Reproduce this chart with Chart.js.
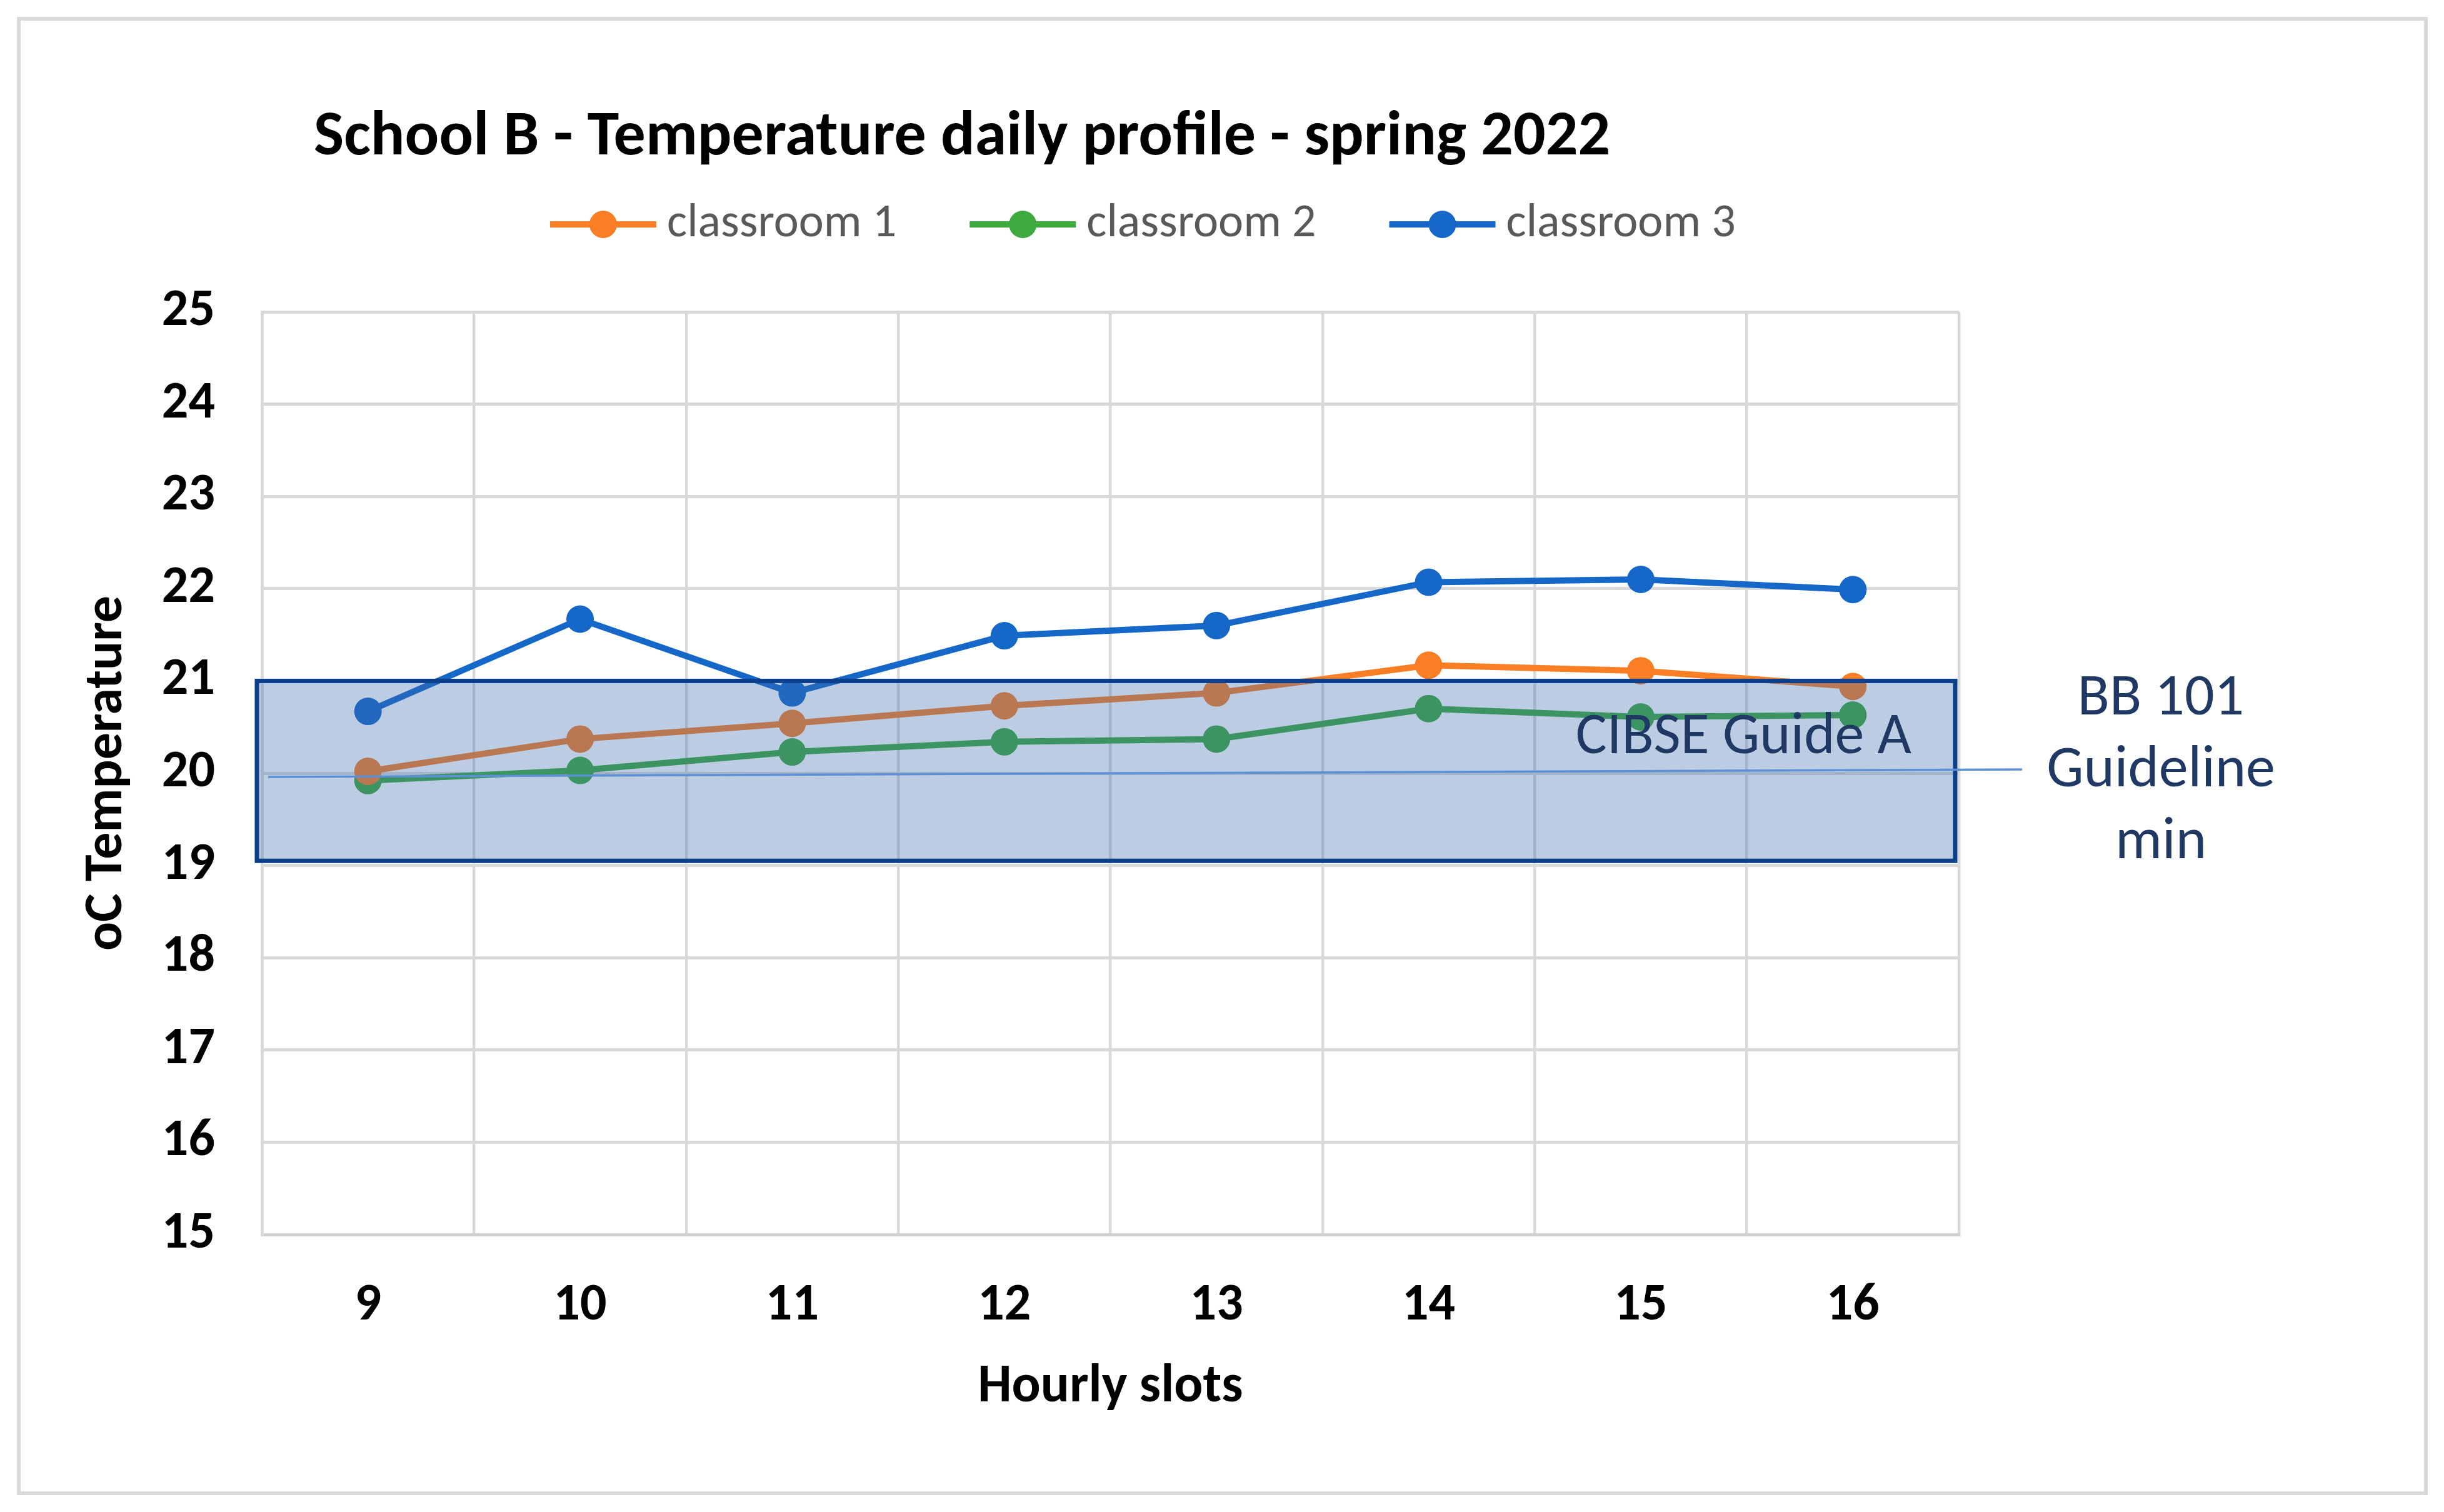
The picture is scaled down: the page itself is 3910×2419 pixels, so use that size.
<!DOCTYPE html>
<html>
<head>
<meta charset="utf-8">
<script src="https://cdn.jsdelivr.net/npm/chart.js@4.4.1/dist/chart.umd.min.js"></script>
<style>
  html, body { margin: 0; padding: 0; background: #fff; }
  canvas { position: absolute; left: 0; top: 0; }
  #frame { position: absolute; left: 27px; top: 27px; width: 3857px; height: 2365px;
           border: 6px solid #d9d9d9; box-sizing: border-box; pointer-events: none; }
</style>
</head>
<body>
<canvas id="chart" width="3910" height="2419"></canvas>
<div id="frame"></div>
<script>
// data
const hours = ['9', '10', '11', '12', '13', '14', '15', '16'];
const classroom1 = [20.02, 20.37, 20.54, 20.73, 20.87, 21.17, 21.11, 20.94];
const classroom2 = [19.92, 20.03, 20.23, 20.34, 20.37, 20.70, 20.61, 20.63];
const classroom3 = [20.67, 21.67, 20.87, 21.49, 21.60, 22.07, 22.10, 21.99];
const seriesNames = ['classroom 1', 'classroom 2', 'classroom 3'];
const seriesColors = ['#fa7e23', '#3caa3c', '#1668c8'];
const yMin = 15, yMax = 25, yStep = 1;

const chartTitle = 'School B - Temperature daily profile - spring 2022';
const xTitle = 'Hourly slots';
const yTitle = 'oC Temperature';

// CIBSE band and BB 101 minimum line (start / end value)
const cibseRange = [19.05, 21.0];
const cibseLabel = 'CIBSE Guide A';
const bb101Line = [19.96, 20.04];
const bb101Label = ['BB 101', 'Guideline', 'min'];

const FONT = "Carlito, Lato, 'Liberation Sans', sans-serif";
Chart.defaults.font.family = FONT;
Chart.defaults.color = '#000';

const guides = {
    id: 'guides',
    afterDatasetsDraw(chart) {
        const {ctx, chartArea: a, scales: {y}} = chart;
        const top = y.getPixelForValue(cibseRange[1]);
        const bottom = y.getPixelForValue(cibseRange[0]);
        ctx.save();
        ctx.fillStyle = 'rgba(58, 105, 173, 0.34)';
        ctx.fillRect(a.left - 8, top, a.width + 2, bottom - top);
        ctx.strokeStyle = '#0b3f8c';
        ctx.lineWidth = 7;
        ctx.strokeRect(a.left - 8, top, a.width + 2, bottom - top);

        ctx.strokeStyle = '#5b8fd6';
        ctx.lineWidth = 3.5;
        ctx.beginPath();
        ctx.moveTo(a.left + 10, y.getPixelForValue(bb101Line[0]));
        ctx.lineTo(a.right + 101, y.getPixelForValue(bb101Line[1]));
        ctx.stroke();

        ctx.fillStyle = '#1f3864';
        ctx.font = `94px ${FONT}`;
        ctx.textBaseline = 'middle';
        ctx.textAlign = 'right';
        ctx.fillText(cibseLabel, a.right - 76, top + 92);

        ctx.textAlign = 'center';
        const mid = y.getPixelForValue(bb101Line[1]) + 3;
        bb101Label.forEach((t, i) => ctx.fillText(t, a.right + 323, mid + (i - 1) * 115));
        ctx.restore();
    }
};

const header = {
    id: 'header',
    afterDraw(chart) {
        const ctx = chart.ctx;
        ctx.save();
        ctx.textBaseline = 'middle';
        ctx.fillStyle = '#000';
        ctx.font = `bold 102px ${FONT}`;
        ctx.textAlign = 'center';
        ctx.fillText(chartTitle, 1539, 221);

        // legend
        ctx.font = `76px ${FONT}`;
        ctx.textAlign = 'left';
        let x = 880;
        const ly = 359;
        chart.data.datasets.forEach(ds => {
            ctx.strokeStyle = ds.borderColor;
            ctx.lineWidth = 10;
            ctx.beginPath();
            ctx.moveTo(x, ly);
            ctx.lineTo(x + 170, ly);
            ctx.stroke();
            ctx.fillStyle = ds.borderColor;
            ctx.beginPath();
            ctx.arc(x + 85, ly, 22, 0, Math.PI * 2);
            ctx.fill();
            ctx.fillStyle = '#595959';
            ctx.fillText(ds.label, x + 187, ly);
            x += 187 + ctx.measureText(ds.label).width + 117;
        });
        ctx.restore();
    }
};

const series = [classroom1, classroom2, classroom3];

new Chart(document.getElementById('chart'), {
    type: 'line',
    data: {
        labels: hours,
        datasets: series.map((values, i) => ({
            label: seriesNames[i],
            data: values,
            borderColor: seriesColors[i],
            backgroundColor: seriesColors[i],
            pointBackgroundColor: seriesColors[i],
            borderWidth: 10,
            pointRadius: 22,
            pointBorderWidth: 0,
            tension: 0,
            clip: false
        }))
    },
    options: {
        responsive: false,
        animation: false,
        layout: { padding: { left: 0, right: 776, top: 499, bottom: 147 } },
        plugins: {
            legend: { display: false },
            title: { display: false },
            tooltip: { enabled: false }
        },
        scales: {
            x: {
                offset: true,
                grid: { offset: true, color: '#d9d9d9', lineWidth: 4.5, drawTicks: false },
                border: { color: '#d0d0d0', width: 5 },
                ticks: { font: { size: 84, weight: 'bold' }, padding: 65, color: '#000' },
                title: { display: true, text: xTitle, font: { size: 86, weight: 'bold' },
                         padding: { top: 28, bottom: 0 }, color: '#000' },
                afterFit(scale) { scale.height = 297; }
            },
            y: {
                min: yMin,
                max: yMax,
                grid: { color: '#d9d9d9', lineWidth: 5, drawTicks: false },
                border: { color: '#d9d9d9', width: 5 },
                ticks: { stepSize: yStep, font: { size: 84, weight: 'bold' }, padding: 75, color: '#000' },
                title: { display: true, text: yTitle, font: { size: 86, weight: 'bold' },
                         padding: { top: 121, bottom: 0 }, color: '#000' },
                afterFit(scale) { scale.width = 419; }
            }
        }
    },
    plugins: [guides, header]
});
</script>
</body>
</html>
